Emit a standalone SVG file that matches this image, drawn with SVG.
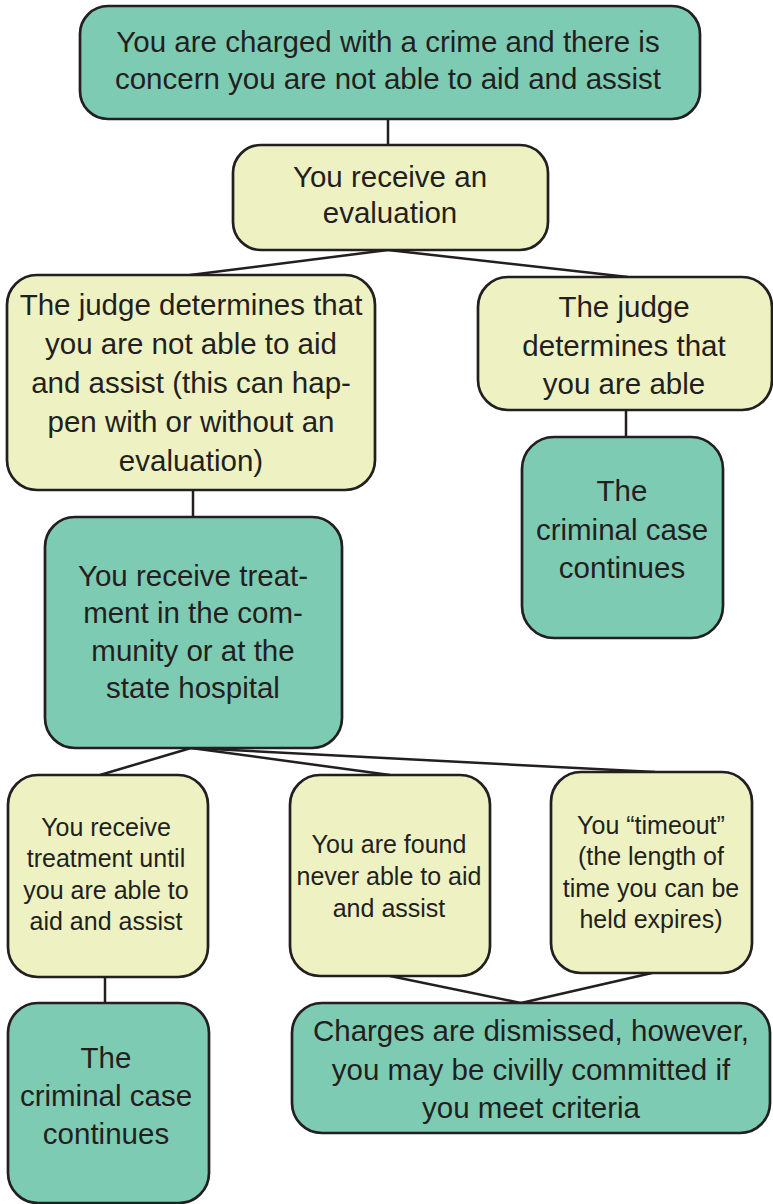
<svg xmlns="http://www.w3.org/2000/svg" width="773" height="1204" viewBox="0 0 773 1204">
<style>
  .box { stroke: #231F20; stroke-width: 2.7; }
  .teal { fill: #7ECBB3; }
  .yel { fill: #EEF2C2; }
  text { font-family: "Liberation Sans", Arial, sans-serif; fill: #231F20; text-anchor: middle; }
  .big { font-size: 29.5px; }
  .small { font-size: 25px; }
  .conn line { stroke: #231F20; stroke-width: 2.5; }
</style>
<rect width="773" height="1204" fill="#FFFFFF"/>
<g id="connectors" class="conn">
  <line x1="388" y1="119" x2="388" y2="145"/>
  <line x1="388" y1="250" x2="190" y2="275"/>
  <line x1="388" y1="250" x2="628" y2="277"/>
  <line x1="626" y1="410" x2="626" y2="437"/>
  <line x1="193" y1="490" x2="193" y2="517"/>
  <line x1="191" y1="748" x2="100" y2="775"/>
  <line x1="191" y1="748" x2="390" y2="775"/>
  <line x1="191" y1="748" x2="655" y2="772"/>
  <line x1="105" y1="977" x2="105" y2="1003"/>
  <line x1="390" y1="976" x2="521" y2="1003"/>
  <line x1="652" y1="973" x2="521" y2="1003"/>
</g>
<g id="n1">
  <rect class="box teal" x="80" y="6" width="620" height="113" rx="28"/>
  <text class="big" x="388" y="52">You are charged with a crime and there is</text>
  <text class="big" x="388" y="89">concern you are not able to aid and assist</text>
</g>
<g id="n2">
  <rect class="box yel" x="233" y="145" width="315" height="105" rx="28"/>
  <text class="big" x="390" y="187">You receive an</text>
  <text class="big" x="390" y="223">evaluation</text>
</g>
<g id="n3">
  <rect class="box yel" x="7" y="275" width="368" height="215" rx="30"/>
  <text class="big" x="191" y="315">The judge determines that</text>
  <text class="big" x="191" y="354">you are not able to aid</text>
  <text class="big" x="191" y="393">and assist (this can hap-</text>
  <text class="big" x="191" y="432">pen with or without an</text>
  <text class="big" x="191" y="471">evaluation)</text>
</g>
<g id="n4">
  <rect class="box yel" x="478" y="277" width="294" height="133" rx="30"/>
  <text class="big" x="624" y="317">The judge</text>
  <text class="big" x="624" y="356">determines that</text>
  <text class="big" x="624" y="394">you are able</text>
</g>
<g id="n5">
  <rect class="box teal" x="522" y="437" width="201" height="201" rx="32"/>
  <text class="big" x="622" y="501">The</text>
  <text class="big" x="622" y="540">criminal case</text>
  <text class="big" x="622" y="578">continues</text>
</g>
<g id="n6">
  <rect class="box teal" x="45" y="517" width="297" height="231" rx="30"/>
  <text class="big" x="193" y="586">You receive treat-</text>
  <text class="big" x="193" y="623">ment in the com-</text>
  <text class="big" x="193" y="661">munity or at the</text>
  <text class="big" x="193" y="698">state hospital</text>
</g>
<g id="n7">
  <rect class="box yel" x="8" y="775" width="200" height="202" rx="30"/>
  <text class="small" x="106" y="836">You receive</text>
  <text class="small" x="106" y="867">treatment until</text>
  <text class="small" x="106" y="899">you are able to</text>
  <text class="small" x="106" y="930">aid and assist</text>
</g>
<g id="n8">
  <rect class="box yel" x="290" y="775" width="200" height="201" rx="30"/>
  <text class="small" x="389" y="853">You are found</text>
  <text class="small" x="389" y="885">never able to aid</text>
  <text class="small" x="389" y="917">and assist</text>
</g>
<g id="n9">
  <rect class="box yel" x="551" y="772" width="201" height="201" rx="30"/>
  <text class="small" x="651" y="834">You “timeout”</text>
  <text class="small" x="651" y="865">(the length of</text>
  <text class="small" x="651" y="897">time you can be</text>
  <text class="small" x="651" y="928">held expires)</text>
</g>
<g id="n10">
  <rect class="box teal" x="8" y="1003" width="201" height="200" rx="30"/>
  <text class="big" x="106" y="1068">The</text>
  <text class="big" x="106" y="1106">criminal case</text>
  <text class="big" x="106" y="1144">continues</text>
</g>
<g id="n11">
  <rect class="box teal" x="292" y="1003" width="478" height="130" rx="30"/>
  <text class="big" x="531" y="1041">Charges are dismissed, however,</text>
  <text class="big" x="531" y="1080">you may be civilly committed if</text>
  <text class="big" x="531" y="1118">you meet criteria</text>
</g>
</svg>
